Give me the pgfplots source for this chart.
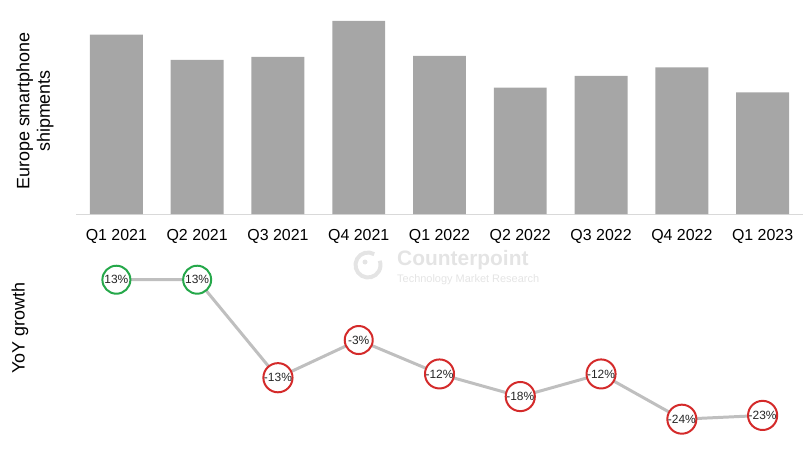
\documentclass[border=0pt]{standalone}
\usepackage{pgfplots}
\pgfplotsset{compat=1.18}
\usepackage{fontspec}
\setmainfont{Liberation Sans}
\setsansfont{Liberation Sans}

\definecolor{bargray}{HTML}{A6A6A6}
\definecolor{basegray}{HTML}{D9D9D9}
\definecolor{linegray}{HTML}{BFBFBF}
\definecolor{posgreen}{HTML}{25A84A}
\definecolor{negred}{HTML}{D42A2A}
\definecolor{wmgray}{HTML}{E4E4E4}

\begin{document}
\begin{tikzpicture}
  % top: shipments (no scale shown, heights)
  \begin{axis}[
      at={(0,0)}, anchor=south west,
      scale only axis,
      width=727bp, height=204bp,
      xmin=-0.5, xmax=8.5,
      ymin=0, ymax=204,
      ybar, bar width=0.655,
      axis x line=bottom,
      axis y line=none,
      x axis line style={draw=basegray, line width=1pt, -},
      xtick={0,...,8},
      xticklabels={Q1 2021, Q2 2021, Q3 2021, Q4 2021, Q1 2022, Q2 2022, Q3 2022, Q4 2022, Q1 2023},
      xtick style={draw=none},
      xticklabel style={font=\fontsize{16}{19}\selectfont, inner sep=0pt, anchor=north, yshift=-13bp},
      clip=false,
    ]
    \addplot[fill=bargray, draw=none] coordinates {
      (0,179.3) (1,154) (2,157) (3,193) (4,158)
      (5,126.3) (6,138) (7,146.7) (8,121.7)
    };
  \end{axis}

  % bottom: YoY growth
  \begin{axis}[
      at={(0,-227.8bp)}, anchor=south west,
      scale only axis,
      width=727bp, height=173.4bp,
      xmin=-0.5, xmax=8.5,
      ymin=-30, ymax=16,
      hide axis,
      clip=false,
      point meta=explicit symbolic,
    ]
    \addplot[linegray, line width=3pt, mark=none] coordinates {
      (0,13) (1,13) (2,-13) (3,-3) (4,-12) (5,-18) (6,-12) (7,-24) (8,-23)
    };
    \addplot[draw=none, mark=none, nodes near coords,
      every node near coord/.style={circle, draw=posgreen, line width=2pt, fill=white,
        minimum size=28bp, inner sep=0pt, anchor=center, text=black!85,
        font=\fontsize{12}{14}\selectfont}]
      coordinates {(0,13)[13\%] (1,13)[13\%]};
    \addplot[draw=none, mark=none, nodes near coords,
      every node near coord/.style={circle, draw=negred, line width=2pt, fill=white,
        minimum size=28bp, inner sep=0pt, anchor=center, text=black!85,
        font=\fontsize{12}{14}\selectfont}]
      coordinates {(2,-13)[-13\%] (3,-3)[-3\%] (4,-12)[-12\%] (5,-18)[-18\%]
        (6,-12)[-12\%] (7,-24)[-24\%] (8,-23)[-23\%]};
  \end{axis}

  % axis titles
  \node[rotate=90, align=center, font=\fontsize{18}{20.5}\selectfont] at (-41bp,103bp)
    {Europe smartphone\\shipments};
  \node[rotate=90, font=\fontsize{18}{21}\selectfont] at (-56bp,-114bp) {YoY growth};

  % watermark
  \draw[wmgray, line width=4pt] (292bp,-51bp) ++(60:12.5bp) arc[start angle=60, end angle=380, radius=12.5bp];
  \fill[wmgray] (289bp,-48bp) circle (2.5bp);
  \node[anchor=west, inner sep=0pt, text=wmgray, font=\bfseries\fontsize{21}{24}\selectfont] at (321bp,-46bp) {Counterpoint};
  \node[anchor=west, inner sep=0pt, text=wmgray, font=\fontsize{11}{13}\selectfont] at (321bp,-66bp) {Technology Market Research};

  \pgfresetboundingbox
  \path[use as bounding box] (-76bp,-235bp) rectangle (736bp,214bp);
\end{tikzpicture}
\end{document}
